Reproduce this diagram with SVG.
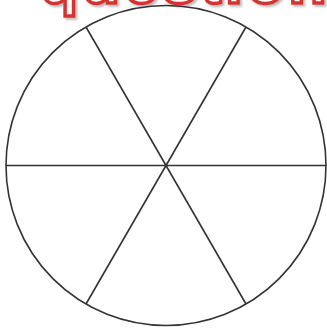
<svg xmlns="http://www.w3.org/2000/svg" width="327" height="328" viewBox="0 0 327 328">
<defs>
<filter id="sh" x="-10%" y="-50%" width="120%" height="200%">
<feDropShadow dx="2" dy="2" stdDeviation="1.2" flood-color="#888" flood-opacity="0.6"/>
</filter>
</defs>
<style>
.t{font-family:"Liberation Sans",Arial,sans-serif;font-weight:bold;font-size:62px;letter-spacing:4px}
.l{stroke:#333;stroke-width:1.6;fill:none}
</style>
<rect width="327" height="328" fill="#fff"/>
<g id="title">
<text class="t" x="40" y="3" fill="#fff" stroke="#d9332e" stroke-width="3.5" filter="url(#sh)">question</text>
</g>
<g id="circle">
<circle cx="166" cy="165.5" r="160" class="l"/>
</g>
<g id="connectors">
<line x1="6" y1="165.5" x2="326" y2="165.5" class="l" stroke-width="2"/>
<line x1="86" y1="27" x2="246" y2="304" class="l"/>
<line x1="246" y1="27" x2="86" y2="304" class="l"/>
</g>
</svg>
